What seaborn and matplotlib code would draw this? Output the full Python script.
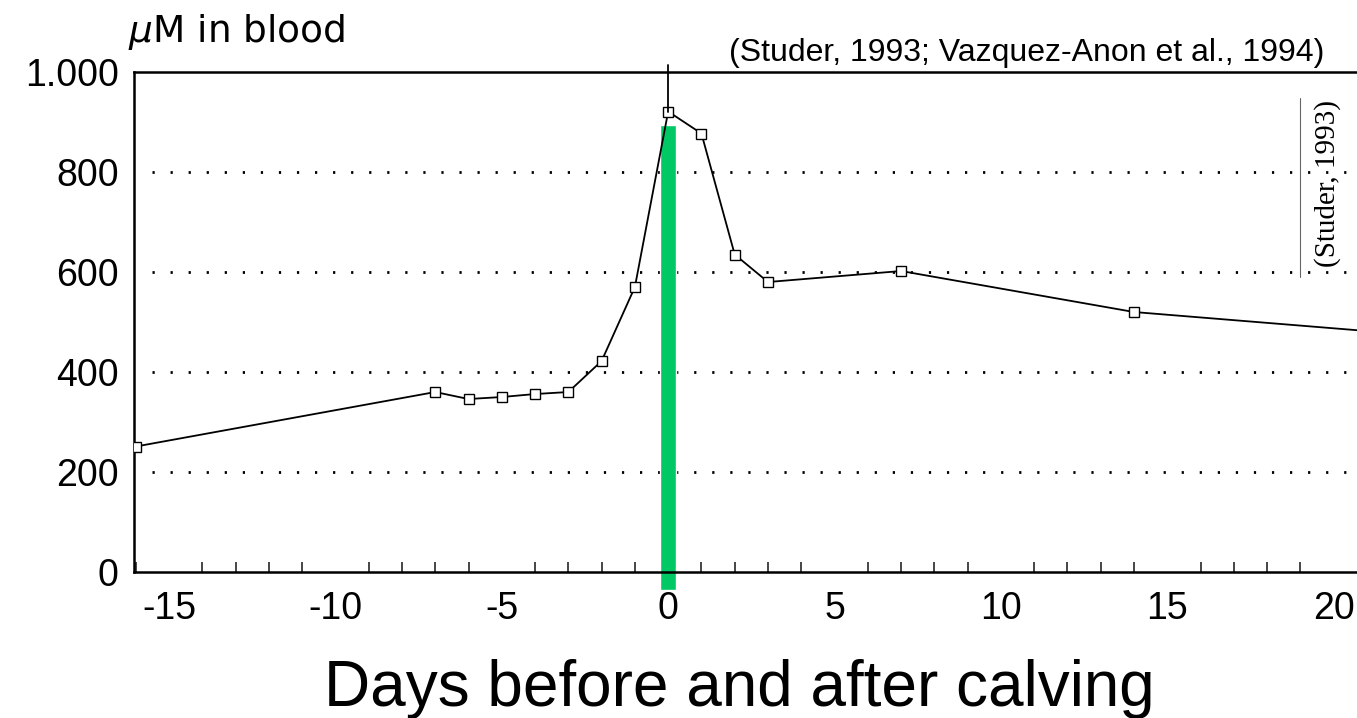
import matplotlib
matplotlib.use("Agg")
import matplotlib.pyplot as plt
import seaborn as sns
import pandas as pd
from matplotlib.ticker import MultipleLocator

# values
days = [-16, -7, -6, -5, -4, -3, -2, -1, 0, 1, 2, 3, 7, 14, 21]
conc = [251, 360, 346, 350, 356, 360, 422, 570, 921, 877, 635, 580, 602, 520, 482]
y_ticks = [0, 200, 400, 600, 800, 1000]
y_labels = ["0", "200", "400", "600", "800", "1.000"]
x_ticks = [-15, -10, -5, 0, 5, 10, 15, 20]
grid_levels = [200, 400, 600, 800]
bar_day = [0]
bar_top = [894]
bar_bottom = -36

df = pd.DataFrame({"day": days, "um": conc})

sns.set_theme(style="white")
plt.rcParams["font.family"] = ["Liberation Sans", "DejaVu Sans"]
plt.rcParams["text.color"] = "black"

fig = plt.figure(figsize=(13.57, 7.18), dpi=100)
ax = fig.add_axes([0.0988, 0.2033, 0.9012, 0.6964])

# dotted guide lines
for lv in grid_levels:
    ax.plot([-15.5, 20.7], [lv, lv], color="black", lw=2.0,
            linestyle=(0, (0.8, 5.7)), zorder=1)

# green marker bar at calving
ax.bar(bar_day, [t - bar_bottom for t in bar_top], bottom=bar_bottom,
       width=0.48, color="#00c864", zorder=2, clip_on=False)

sns.lineplot(data=df, x="day", y="um", ax=ax, color="black", lw=1.3,
             marker="s", markersize=7, markerfacecolor="white",
             markeredgecolor="black", markeredgewidth=1.0, zorder=3)

# vertical line above the peak
ax.plot([0, 0], [921, 1014], color="black", lw=1.3, clip_on=False, zorder=3)

ax.set_xlim(-16.05, 20.7)
ax.set_ylim(0, 1000)
ax.set_yticks(y_ticks)
ax.set_yticklabels(y_labels)
ax.set_xticks(x_ticks)
ax.set_xticklabels([str(t) for t in x_ticks])
ax.xaxis.set_minor_locator(MultipleLocator(1))
ax.tick_params(axis="x", which="major", direction="in", length=12, width=1.2,
               labelsize=27, pad=14, colors="black")
ax.tick_params(axis="x", which="minor", direction="in", length=7, width=1.2,
               bottom=True)
ax.tick_params(axis="y", length=0, labelsize=27, pad=11, colors="black")
ax.set_xlabel("")
ax.set_ylabel("")

for side in ["left", "bottom", "top"]:
    ax.spines[side].set_color("black")
    ax.spines[side].set_linewidth(1.8)
ax.spines["right"].set_visible(False)

fig.text(0.094, 0.9415, r"$\mu$M in blood", fontsize=27, ha="left",
         va="baseline", family=["DejaVu Sans"])
fig.text(0.537, 0.915, "(Studer, 1993; Vazquez-Anon et al., 1994)",
         fontsize=23, ha="left", va="baseline")
fig.text(0.978, 0.744, "(Studer, 1993)", fontsize=21, rotation=90,
         ha="center", va="center", family=["Liberation Serif", "DejaVu Serif"])
fig.add_artist(plt.Line2D([0.958, 0.958], [0.614, 0.8635], color="black",
                          lw=0.8, alpha=0.6))
fig.text(0.545, 0.0167, "Days before and after calving", fontsize=46,
         ha="center", va="baseline")

fig.savefig("out.png", dpi=100)
